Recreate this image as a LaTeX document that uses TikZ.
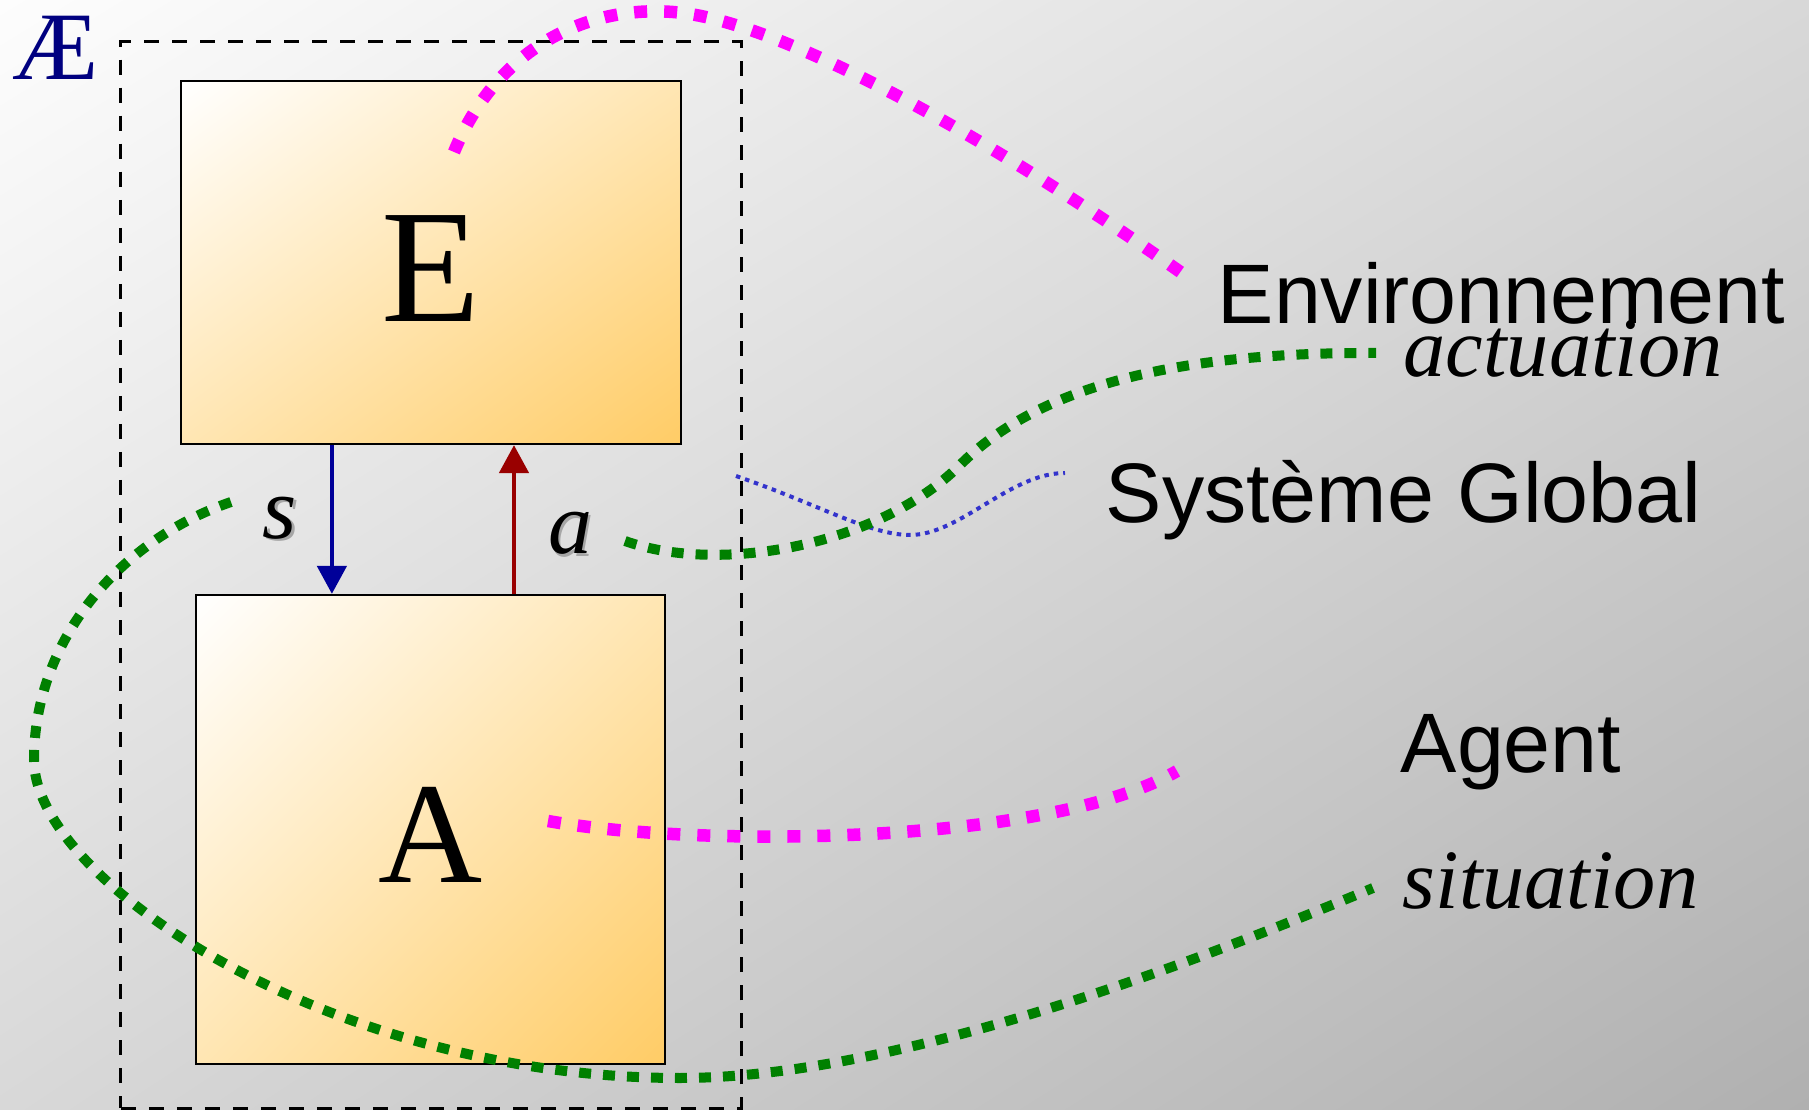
\documentclass[tikz,border=0pt]{standalone}
\usepackage{fontspec}
\setmainfont{Liberation Serif}
\setsansfont{Liberation Sans}
\usetikzlibrary{shapes,shadings,arrows.meta,positioning,backgrounds,fit}

\definecolor{fondclair}{HTML}{FDFDFD}
\definecolor{fondmilieu}{HTML}{D8D8D8}
\definecolor{fondsombre}{HTML}{B0B0B0}
\definecolor{orangeclair}{HTML}{FFCC66}
\definecolor{orangemilieu}{HTML}{FFE6B3}
\definecolor{bleufonce}{HTML}{000099}
\definecolor{rougefonce}{HTML}{990000}
\definecolor{vertlien}{HTML}{008000}
\definecolor{bleulien}{HTML}{3333CC}
\definecolor{roselien}{HTML}{FF00FF}
\definecolor{marine}{HTML}{000080}

\newcommand{\ombre}[1]{\makebox[0pt][l]{\hspace{0.25mm}\raisebox{-0.25mm}{\textcolor{black!35}{#1}}}#1}

\begin{document}
\begin{tikzpicture}
[x=0.01cm, y=-0.01cm, >={Triangle[length=2.8mm,width=2.9mm]},
 boite/.style={draw=black, line width=0.2mm, inner sep=0pt, upper left=white, upper right=orangemilieu, lower left=orangemilieu, lower right=orangeclair},
 lettre/.style={font=\fontsize{46}{46}\selectfont, inner sep=0pt},
 cadre/.style={draw=black, line width=0.33mm, dash pattern=on 1.5mm off 1.3mm, inner sep=0pt, minimum width=62mm, minimum height=106.6mm},
 titre/.style={font=\sffamily\fontsize{24}{24}\selectfont, anchor=base west, inner sep=0pt},
 italique/.style={font=\itshape\fontsize{24}{24}\selectfont, anchor=base west, inner sep=0pt},
 varlettre/.style={font=\itshape\fontsize{25}{25}\selectfont, inner sep=0pt},
 fleche/.style={->, line width=0.47mm},
 lien rose/.style={draw=roselien, line width=1.25mm, dash pattern=on 1.3mm off 1.7mm},
 lien vert/.style={draw=vertlien, line width=1mm, dash pattern=on 1.2mm off 1.2mm},
 lien bleu/.style={draw=bleulien, line width=0.4mm, dash pattern=on 0.45mm off 0.5mm}]

  \useasboundingbox (0,0) rectangle (1809,1110);
  \shade[upper left=fondclair, upper right=fondmilieu, lower left=fondmilieu, lower right=fondsombre] (0,0) rectangle (1809,1110);

  \node (ae) [lettre, font=\fontsize{27.5}{27.5}\selectfont, text=marine, anchor=base west] at (12,80) {Æ};
  \node (global) [cadre] at (431,575) {};
  \node (env) [boite, minimum width=49.95mm, minimum height=36.25mm] at (431.25,262.75) {};
  \node (agent) [boite, minimum width=46.9mm, minimum height=46.85mm] at (430.5,829.25) {};
  \node (lettreE) [lettre] at ([yshift=-0.57mm]env.center) {E};
  \node (lettreA) [lettre, font=\fontsize{41}{41}\selectfont] at ([yshift=-0.52mm]agent.center) {A};

  \draw [fleche, bleufonce] ([xshift=-9.93mm]env.south) -- ([xshift=-9.93mm]env.south |- agent.north);
  \draw [fleche, rougefonce] ([xshift=8.27mm]env.south |- agent.north) -- ([xshift=8.27mm]env.south);
  \node (s) [varlettre] at (280,519) {\ombre{s}};
  \node (a) [varlettre] at (570,535) {\ombre{a}};

  \node (envtexte) [titre] at (1217,324) {Environnement};
  \node (actuation) [italique] at ([shift={(186,53)}]envtexte.base west) {actuation};
  \node (systeme) [titre] at (1105,523) {Système Global};
  \node (agenttexte) [titre] at (1400,772) {Agent};
  \node (situation) [italique] at ([shift={(2,136)}]agenttexte.base west) {situation};

  % bouts libres des liens
  \coordinate (pE) at (454,152);
  \coordinate (fE) at (1186,276);
  \coordinate (pA) at (548,821);
  \coordinate (fA) at (1177,771);
  \coordinate (pG) at (736,476);
  \coordinate (fG) at (1065,473);
  \coordinate (pa) at (625,541);
  \coordinate (fa) at (1376,353);
  \coordinate (ps) at (231,502);
  \coordinate (fs) at (1373,888);

  \draw [lien rose] (pE) .. controls (500,40) and (600,0) .. (690,14) .. controls (790,30) and (980,130) .. (fE);
  \draw [lien rose] (pA) .. controls (700,848) and (1050,845) .. (fA);
  \draw [lien bleu] (pG) .. controls (820,505) and (870,535) .. (910,535) .. controls (960,535) and (1010,473) .. (fG);
  \draw [lien vert] (pa) .. controls (720,575) and (880,545) .. (960,465) .. controls (1040,385) and (1180,352) .. (fa);
  \draw [lien vert] (ps) .. controls (120,540) and (34,640) .. (34,760) .. controls (34,880) and (330,1078) .. (680,1078) .. controls (900,1078) and (1200,960) .. (fs);

\end{tikzpicture}
\end{document}
